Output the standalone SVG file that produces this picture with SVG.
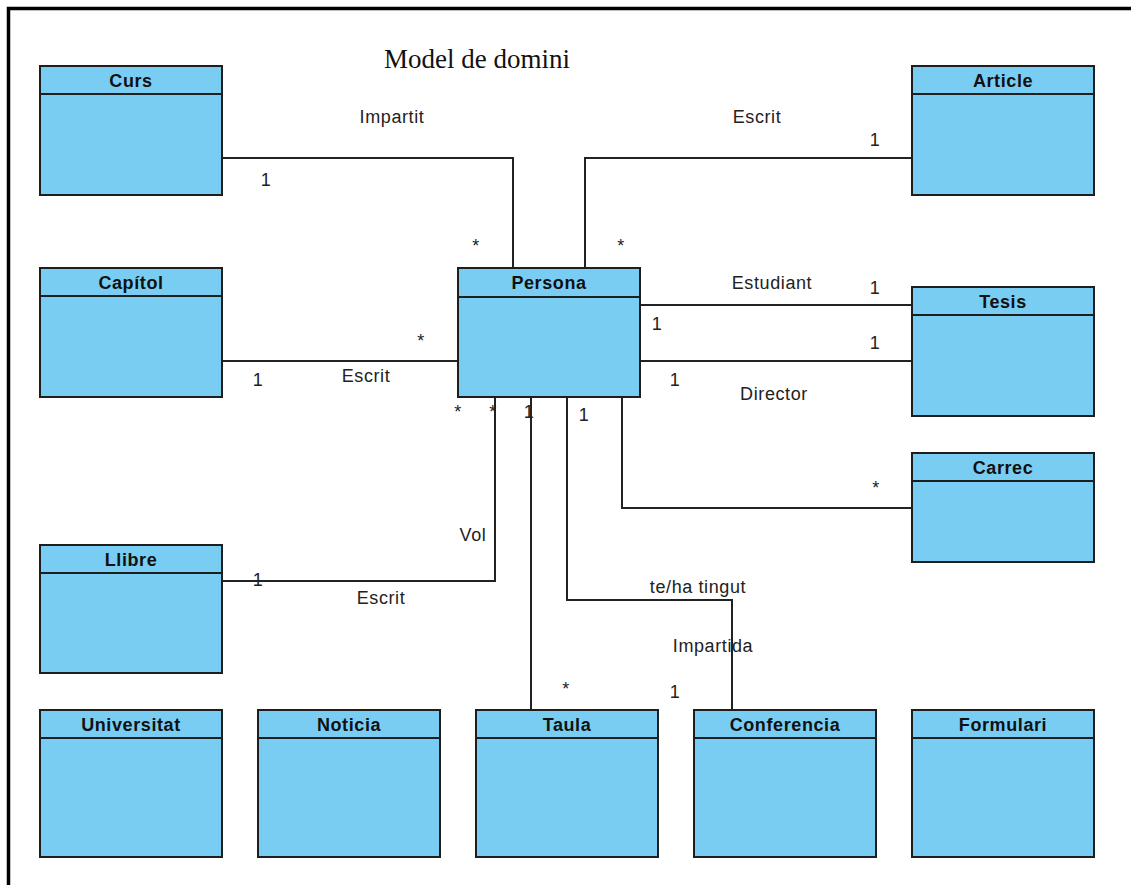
<svg xmlns="http://www.w3.org/2000/svg" width="1131" height="885" viewBox="0 0 1131 885">
<style>
.box{fill:#79cdf3;stroke:#1e1e1e;stroke-width:2}
.hd{fill:none;stroke:#1e1e1e;stroke-width:2}
.t{font-family:"Liberation Sans",Arial,sans-serif;font-weight:bold;font-size:18px;fill:#111;text-anchor:middle;letter-spacing:0.6px}
.l{font-family:"Liberation Sans",Arial,sans-serif;font-size:18px;fill:#222;text-anchor:middle;letter-spacing:0.6px}
.c{fill:none;stroke:#222;stroke-width:2}
</style>
<rect width="1131" height="885" fill="#fff"/>
<path d="M8.5 885 V8.5 H1131" fill="none" stroke="#000" stroke-width="3.5"/>
<text x="477" y="68" font-family="'Liberation Serif',serif" font-size="27" fill="#111" text-anchor="middle">Model de domini</text>

<g id="connectors">
<path class="c" d="M222 158 H513 V268"/>
<path class="c" d="M912 158 H585 V268"/>
<path class="c" d="M222 361 H458"/>
<path class="c" d="M640 305 H912"/>
<path class="c" d="M640 361 H912"/>
<path class="c" d="M622 397 V508 H912"/>
<path class="c" d="M495 397 V581 H222"/>
<path class="c" d="M531 397 V710"/>
<path class="c" d="M567 397 V600 H732 V710"/>
<g class="l">
<text x="392" y="123">Impartit</text>
<text x="266" y="186">1</text>
<text x="476" y="252">*</text>
<text x="757" y="123">Escrit</text>
<text x="875" y="146">1</text>
<text x="621" y="252">*</text>
<text x="772" y="289">Estudiant</text>
<text x="875" y="294">1</text>
<text x="657" y="330">1</text>
<text x="875" y="349">1</text>
<text x="675" y="386">1</text>
<text x="774" y="400">Director</text>
<text x="421" y="347">*</text>
<text x="366" y="382">Escrit</text>
<text x="258" y="386">1</text>
<text x="458" y="418">*</text>
<text x="493" y="418">*</text>
<text x="529" y="418">1</text>
<text x="584" y="421">1</text>
<text x="876" y="494">*</text>
<text x="473" y="541">Vol</text>
<text x="258" y="586">1</text>
<text x="381" y="604">Escrit</text>
<text x="698" y="593">te/ha tingut</text>
<text x="713" y="652">Impartida</text>
<text x="566" y="695">*</text>
<text x="675" y="698">1</text>
</g>
</g>

<g id="curs"><rect class="box" x="40" y="66" width="182" height="129"/><path class="hd" d="M40 94 H222"/><text class="t" x="131" y="87">Curs</text></g>
<g id="article"><rect class="box" x="912" y="66" width="182" height="129"/><path class="hd" d="M912 94 H1094"/><text class="t" x="1003" y="87">Article</text></g>
<g id="capitol"><rect class="box" x="40" y="268" width="182" height="129"/><path class="hd" d="M40 296 H222"/><text class="t" x="131" y="289">Capítol</text></g>
<g id="persona"><rect class="box" x="458" y="268" width="182" height="129"/><path class="hd" d="M458 297 H640"/><text class="t" x="549" y="289">Persona</text></g>
<g id="tesis"><rect class="box" x="912" y="287" width="182" height="129"/><path class="hd" d="M912 315 H1094"/><text class="t" x="1003" y="308">Tesis</text></g>
<g id="carrec"><rect class="box" x="912" y="453" width="182" height="109"/><path class="hd" d="M912 481 H1094"/><text class="t" x="1003" y="474">Carrec</text></g>
<g id="llibre"><rect class="box" x="40" y="545" width="182" height="128"/><path class="hd" d="M40 573 H222"/><text class="t" x="131" y="566">Llibre</text></g>
<g id="universitat"><rect class="box" x="40" y="710" width="182" height="147"/><path class="hd" d="M40 738 H222"/><text class="t" x="131" y="731">Universitat</text></g>
<g id="noticia"><rect class="box" x="258" y="710" width="182" height="147"/><path class="hd" d="M258 738 H440"/><text class="t" x="349" y="731">Noticia</text></g>
<g id="taula"><rect class="box" x="476" y="710" width="182" height="147"/><path class="hd" d="M476 738 H658"/><text class="t" x="567" y="731">Taula</text></g>
<g id="conferencia"><rect class="box" x="694" y="710" width="182" height="147"/><path class="hd" d="M694 738 H876"/><text class="t" x="785" y="731">Conferencia</text></g>
<g id="formulari"><rect class="box" x="912" y="710" width="182" height="147"/><path class="hd" d="M912 738 H1094"/><text class="t" x="1003" y="731">Formulari</text></g>
</svg>
